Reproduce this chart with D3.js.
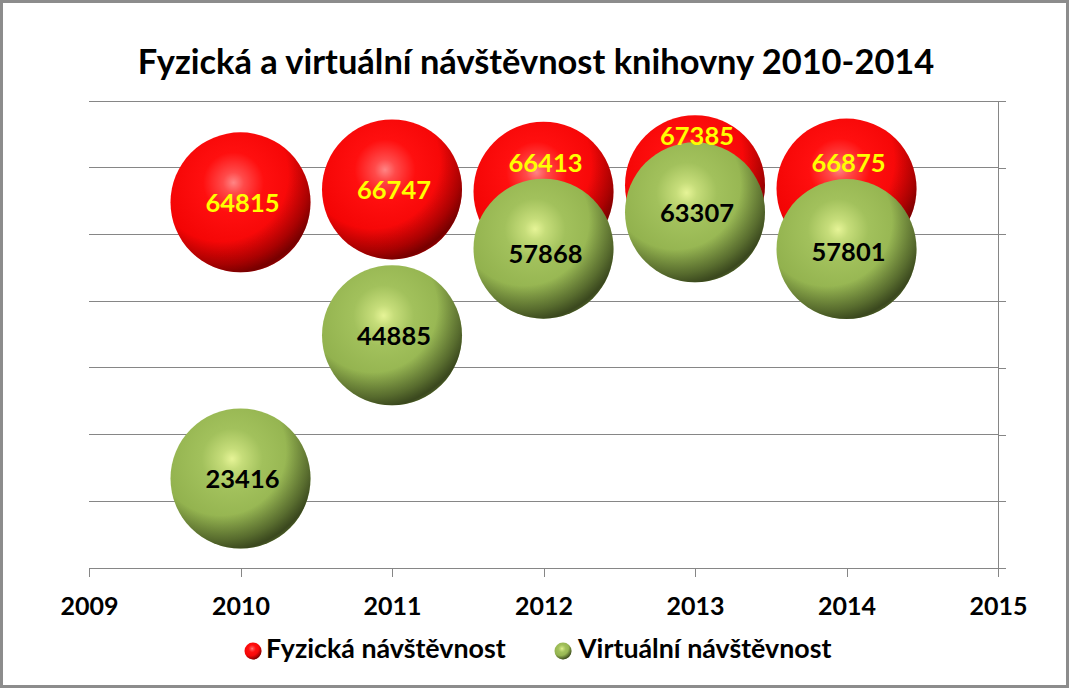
<!DOCTYPE html>
<html>
<head>
<meta charset="utf-8">
<script src="https://cdnjs.cloudflare.com/ajax/libs/d3/7.8.5/d3.min.js"></script>
<style>
  html, body { margin: 0; padding: 0; background: #fff; }
  svg { display: block; }
  text { font-family: Lato, "Open Sans", "Liberation Sans", sans-serif; font-weight: bold; }
</style>
</head>
<body>
<svg id="chart" width="1069" height="688"></svg>
<script>
// ---- data ----
const chartTitle = "Fyzická a virtuální návštěvnost knihovny 2010-2014";
const years = [2010, 2011, 2012, 2013, 2014];
const physicalVisits = [64815, 66747, 66413, 67385, 66875];
const virtualVisits = [23416, 44885, 57868, 63307, 57801];
const seriesNames = ["Fyzická návštěvnost", "Virtuální návštěvnost"];
const xTickValues = [2009, 2010, 2011, 2012, 2013, 2014, 2015];
const yTickValues = [10000, 20000, 30000, 40000, 50000, 60000, 70000, 80000];

// ---- layout ----
const W = 1069, H = 688;
const plot = { left: 89, right: 998, top: 101, bottom: 568 };
const bubbleR = 70;
const gridColor = "#868686";

const svg = d3.select("#chart");

svg.append("rect").attr("x", 0).attr("y", 0).attr("width", W).attr("height", H).attr("fill", "#fff");
svg.append("rect").attr("x", 1.5).attr("y", 1.5).attr("width", W - 3).attr("height", H - 3)
  .attr("fill", "none").attr("stroke", "#8c8c8c").attr("stroke-width", 3);

const x = d3.scaleLinear().domain([2009, 2015]).range([plot.left, plot.right]);
const y = d3.scaleLinear().domain([10000, 80000]).range([plot.bottom, plot.top]);

// gradients
const defs = svg.append("defs");
function radial(id, cx, cy, r, stops) {
  const g = defs.append("radialGradient").attr("id", id)
    .attr("cx", cx).attr("cy", cy).attr("r", r).attr("fx", cx).attr("fy", cy);
  stops.forEach(([o, c, op]) => g.append("stop").attr("offset", o).attr("stop-color", c)
    .attr("stop-opacity", op === undefined ? 1 : op));
}
radial("gradRed", "45%", "36%", "62%", [[0, "#ff8585"], [0.12, "#ff4a4a"], [0.35, "#ff0f0f"], [1, "#ee0000"]]);
radial("gradGreen", "44%", "36%", "62%", [[0, "#e6f497"], [0.12, "#c6dd7a"], [0.35, "#a2c15c"], [1, "#8aaa47"]]);
radial("shadeRed", "36%", "30%", "80%", [[0, "#000", 0], [0.6, "#000", 0], [0.8, "#000", 0.3], [0.9, "#000", 0.5], [0.96, "#000", 0.35], [1, "#000", 0.15]]);
radial("shadeGreen", "36%", "30%", "80%", [[0, "#000", 0], [0.58, "#000", 0], [0.8, "#000", 0.38], [0.9, "#000", 0.58], [0.96, "#000", 0.4], [1, "#000", 0.18]]);

// gridlines
svg.append("g").selectAll("line").data(yTickValues.filter(v => v > 10000)).join("line")
  .attr("x1", plot.left).attr("x2", plot.right)
  .attr("y1", d => y(d)).attr("y2", d => y(d))
  .attr("stroke", gridColor).attr("stroke-width", 1).attr("shape-rendering", "crispEdges");

// right-side value axis (no labels)
const yAxis = svg.append("g").attr("transform", `translate(${plot.right},0)`)
  .call(d3.axisRight(y).tickValues(yTickValues).tickSize(8).tickFormat(""));
yAxis.selectAll("path, line").attr("stroke", gridColor).attr("shape-rendering", "crispEdges");

// x axis
const xAxis = svg.append("g").attr("transform", `translate(0,${plot.bottom})`)
  .call(d3.axisBottom(x).tickValues(xTickValues).tickSize(9).tickSizeOuter(0).tickFormat(d3.format("d")));
xAxis.selectAll("path, line").attr("stroke", gridColor).attr("shape-rendering", "crispEdges");
xAxis.selectAll("text").attr("fill", "#000").attr("font-size", 25).attr("dy", null).attr("y", 47)
  .style("font-family", "Lato, sans-serif").style("font-weight", "bold");

// bubbles
const series = [
  { name: seriesNames[0], values: physicalVisits, grad: "gradRed", shade: "shadeRed", labelColor: "#ffff00", labelShift: [0, 0, -30, -50, -27] },
  { name: seriesNames[1], values: virtualVisits, grad: "gradGreen", shade: "shadeGreen", labelColor: "#000000", labelShift: [0, 0, 4, 0, 2] }
];
series.forEach(s => {
  const g = svg.append("g");
  const pts = years.map((yr, i) => ({ yr, v: s.values[i], i }));
  const b = g.selectAll("g.b").data(pts).join("g").attr("class", "b")
    .attr("transform", d => `translate(${x(d.yr)},${y(d.v)})`);
  b.append("circle").attr("r", bubbleR).attr("fill", `url(#${s.grad})`);
  b.append("circle").attr("r", bubbleR).attr("fill", `url(#${s.shade})`);
});
series.forEach(s => {
  svg.append("g").selectAll("text").data(years.map((yr, i) => ({ yr, v: s.values[i], i }))).join("text")
    .attr("x", d => x(d.yr) + 2)
    .attr("y", d => y(d.v) + s.labelShift[d.i] + 10)
    .attr("text-anchor", "middle")
    .attr("font-size", 25.5)
    .attr("fill", s.labelColor)
    .text(d => d.v);
});

// title
const t = svg.append("text").attr("x", 536).attr("y", 74).attr("text-anchor", "middle")
  .attr("font-size", 33).attr("fill", "#000").text(chartTitle);
const tw = t.node().getComputedTextLength();
t.attr("font-size", 33 * 797 / tw);

// legend
const legend = [
  { cx: 253, tx: 266, grad: "gradRed", shade: "shadeRed", name: seriesNames[0] },
  { cx: 563, tx: 578, grad: "gradGreen", shade: "shadeGreen", name: seriesNames[1] }
];
const lg = svg.append("g").selectAll("g").data(legend).join("g");
lg.append("circle").attr("cx", d => d.cx).attr("cy", 651).attr("r", 8.5).attr("fill", d => `url(#${d.grad})`);
lg.append("circle").attr("cx", d => d.cx).attr("cy", 651).attr("r", 8.5).attr("fill", d => `url(#${d.shade})`);
lg.append("text").attr("x", d => d.tx).attr("y", 658).attr("font-size", 26.8).attr("fill", "#000").text(d => d.name);
</script>
</body>
</html>
